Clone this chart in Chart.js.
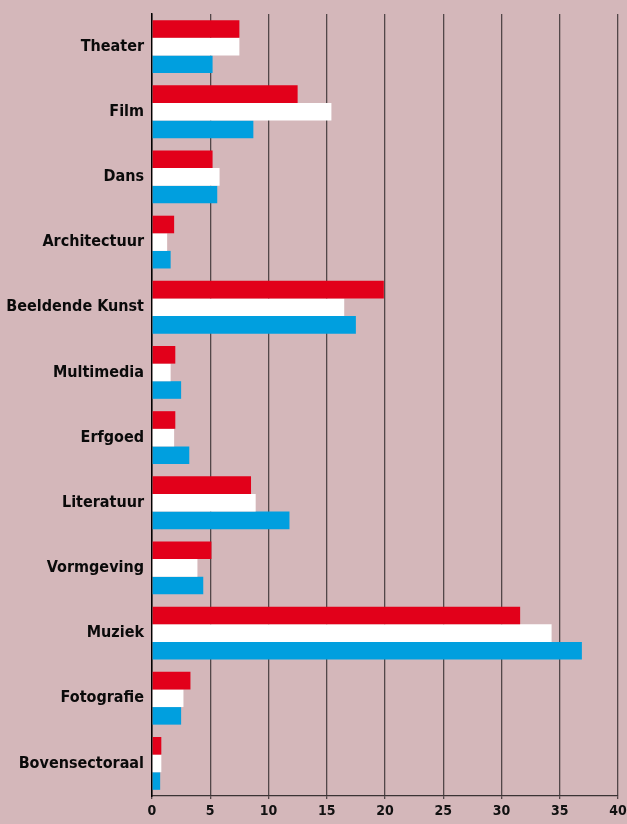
<!DOCTYPE html>
<html>
<head>
<meta charset="utf-8">
<script src="https://cdn.jsdelivr.net/npm/chart.js@4"></script>
<style>
    html, body { margin: 0; padding: 0; background: #d4b7ba; }
    #wrap { width: 627px; height: 824px; position: relative; }
</style>
</head>
<body>
<div id="wrap"><canvas id="chart"></canvas></div>
<script>
// Categories, top to bottom
const categories = [
    'Theater', 'Film', 'Dans', 'Architectuur', 'Beeldende Kunst',
    'Multimedia', 'Erfgoed', 'Literatuur', 'Vormgeving', 'Muziek',
    'Fotografie', 'Bovensectoraal',
];

// Three series (red, white, blue bars per category)
const seriesRed = [7.5, 12.5, 5.2, 1.9, 19.9, 2.0, 2.0, 8.5, 5.1, 31.6, 3.3, 0.8];
const seriesWhite = [7.5, 15.4, 5.8, 1.3, 16.5, 1.6, 1.9, 8.9, 3.9, 34.3, 2.7, 0.8];
const seriesBlue = [5.2, 8.7, 5.6, 1.6, 17.5, 2.5, 3.2, 11.8, 4.4, 36.9, 2.5, 0.7];

const xTicks = [0, 5, 10, 15, 20, 25, 30, 35, 40];

const font = "'DejaVu Sans Condensed', 'Liberation Sans Narrow', sans-serif";

const makeSet = function(data, color) {
    'use strict';
    return {
        data: data,
        backgroundColor: color,
        borderWidth: 0,
        barPercentage: 1.0,
        categoryPercentage: 0.81,
    };
};

new Chart(document.getElementById('chart'), {
    type: 'bar',
    data: {
        labels: categories,
        datasets: [
            makeSet(seriesRed, '#e2001a'),
            makeSet(seriesWhite, '#ffffff'),
            makeSet(seriesBlue, '#009fdf'),
        ],
    },
    options: {
        indexAxis: 'y',
        responsive: true,
        maintainAspectRatio: false,
        animation: false,
        layout: {
            padding: {top: 14, right: 0, bottom: 0, left: 0},
        },
        scales: {
            x: {
                min: 0,
                max: 40,
                afterBuildTicks: function(scale) {
                    scale.ticks = xTicks.map(v => ({value: v}));
                },
                afterFit: function(scale) {
                    scale.height = 28;
                    // keep "40" close to the right edge like the original
                    scale.paddingRight = 9;
                    scale.paddingLeft = 0;
                },
                grid: {
                    color: '#524749',
                    lineWidth: 1.3,
                    drawTicks: true,
                    tickLength: 3,
                },
                border: {
                    display: true,
                    color: '#3a3334',
                    width: 1.3,
                },
                ticks: {
                    color: '#111',
                    padding: 4,
                    maxRotation: 0,
                    font: {family: font, size: 14, weight: 'bold'},
                },
            },
            y: {
                afterFit: function(scale) {
                    scale.width = 152;
                },
                grid: {display: false},
                border: {
                    display: true,
                    color: '#000',
                    width: 1.5,
                },
                ticks: {
                    color: '#0a0a0a',
                    padding: 0,
                    font: {family: font, size: 16, weight: 'bold'},
                },
            },
        },
        plugins: {
            legend: {display: false},
            tooltip: {enabled: false},
        },
    },
});
</script>
</body>
</html>
